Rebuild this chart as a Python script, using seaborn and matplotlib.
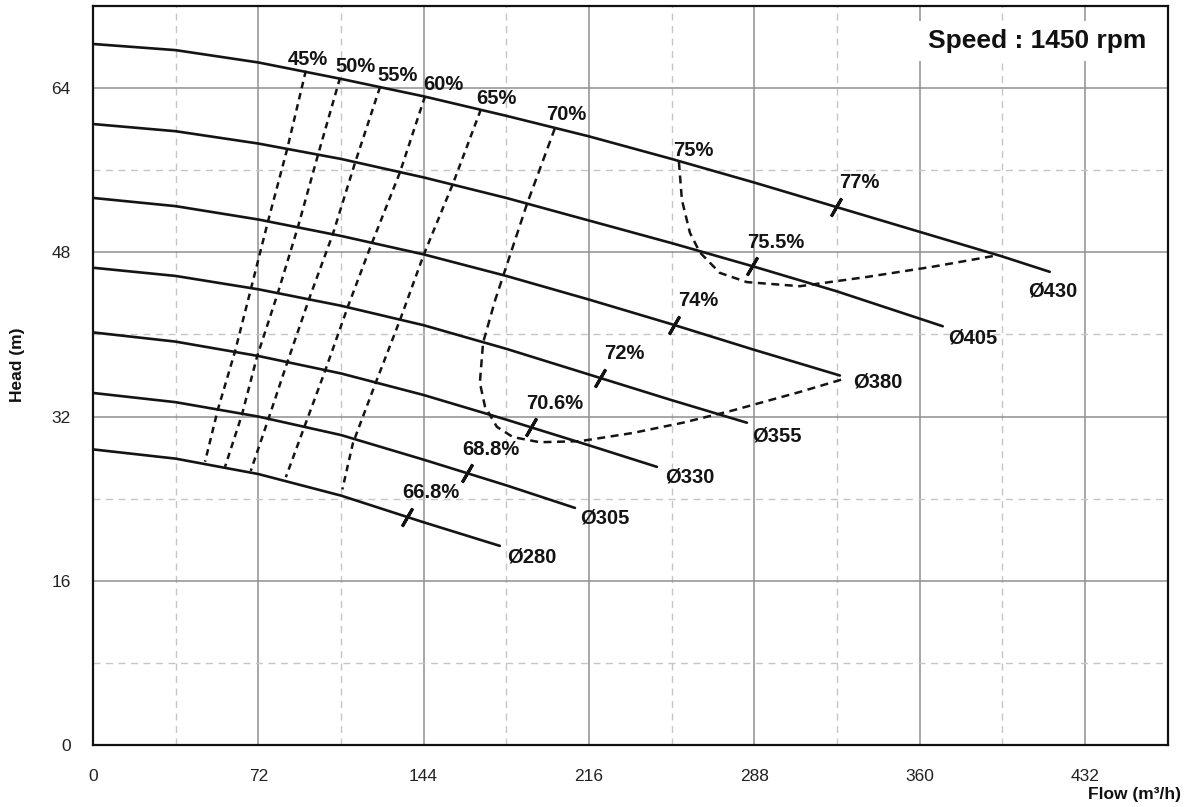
import numpy as np
import pandas as pd
import matplotlib
matplotlib.use("Agg")
import matplotlib.pyplot as plt
import seaborn as sns

# ---------------- data (flow m3/h, head m) ----------------
curve_names = ["Ø430", "Ø405", "Ø380", "Ø355", "Ø330", "Ø305", "Ø280"]
d430_q = [0, 36, 72, 108, 144, 180, 216, 252, 288, 324, 360, 396, 416.7]
d430_h = [68.3, 67.7, 66.5, 64.9, 63.2, 61.3, 59.3, 57.1, 54.8, 52.4, 50.0, 47.6, 46.1]
d405_q = [0, 36, 72, 108, 144, 180, 216, 252, 288, 324, 370.1]
d405_h = [60.5, 59.8, 58.6, 57.1, 55.3, 53.3, 51.1, 48.9, 46.6, 44.2, 40.8]
d380_q = [0, 36, 72, 108, 144, 180, 216, 252, 288, 325.3]
d380_h = [53.3, 52.5, 51.2, 49.6, 47.8, 45.7, 43.4, 41.0, 38.5, 36.0]
d355_q = [0, 36, 72, 108, 144, 180, 216, 252, 284.8]
d355_h = [46.5, 45.7, 44.4, 42.8, 40.9, 38.6, 36.1, 33.6, 31.4]
d330_q = [0, 36, 72, 108, 144, 180, 216, 245.6]
d330_h = [40.2, 39.3, 37.9, 36.2, 34.1, 31.7, 29.2, 27.1]
d305_q = [0, 36, 72, 108, 144, 180, 209.9]
d305_h = [34.3, 33.4, 32.0, 30.2, 27.8, 25.3, 23.1]
d280_q = [0, 36, 72, 108, 144, 177.2]
d280_h = [28.8, 27.9, 26.4, 24.3, 21.7, 19.4]

# iso-efficiency lines
iso_labels = ["45%", "50%", "55%", "60%", "65%", "70%", "75%"]
e45_q = [92.7, 84.5, 76.2, 68.4, 61.8, 54.4, 48.8]
e45_h = [65.7, 58.0, 51.0, 44.1, 38.3, 32.7, 27.6]
e50_q = [107.6, 98.0, 89.3, 80.6, 71.4, 64.9, 57.5]
e50_h = [65.0, 57.5, 50.5, 44.1, 37.8, 32.2, 27.1]
e55_q = [125.0, 114.1, 104.5, 94.5, 84.5, 76.6, 68.7]
e55_h = [64.1, 56.7, 49.8, 43.7, 37.2, 31.9, 26.7]
e60_q = [144.6, 133.7, 120.6, 111.0, 101.0, 91.9, 84.0]
e60_h = [63.2, 55.8, 48.4, 42.7, 36.4, 30.9, 26.1]
e65_q = [168.9, 156.8, 144.1, 133.7, 122.8, 113.2, 108.6]
e65_h = [61.9, 54.7, 47.8, 41.4, 35.1, 29.4, 24.9]
e70_q = [201.2, 189.0, 178.5, 175.1, 169.9, 168.5, 170.7, 175.9, 182.9,
         194.6, 212.1, 235.1, 256.9, 278.7, 307.9, 327.5]
e70_h = [60.1, 52.7, 45.6, 43.3, 39.2, 35.3, 33.0, 31.0, 30.0,
         29.5, 29.6, 30.4, 31.4, 32.6, 34.4, 35.7]
e75_q = [255.2, 256.5, 260.0, 264.3, 273.0, 284.8, 307.9, 337.0, 365.8, 393.6]
e75_h = [56.8, 53.1, 49.9, 48.0, 46.0, 45.1, 44.7, 45.6, 46.6, 47.7]

# best-efficiency marks on each curve
bep_labels = ["77%", "75.5%", "74%", "72%", "70.6%", "68.8%", "66.8%"]
bep_q = [323.5, 287.0, 253.0, 220.8, 190.7, 162.9, 136.7]

x_ticks = [0, 72, 144, 216, 288, 360, 432]
y_ticks = [0, 16, 32, 48, 64]

# ---------------- style ----------------
sns.set_style("white")
plt.rcParams["font.family"] = ["Liberation Sans", "DejaVu Sans"]

W, H = 1189, 807
fig = plt.figure(figsize=(W / 100, H / 100), dpi=100)
ax = fig.add_axes([93 / W, 1 - 745 / H, (1167.5 - 93) / W, (745 - 6) / H])

LC = "#141414"
curves_q = [d430_q, d405_q, d380_q, d355_q, d330_q, d305_q, d280_q]
curves_h = [d430_h, d405_h, d380_h, d355_h, d330_h, d305_h, d280_h]
iso_q = [e45_q, e50_q, e55_q, e60_q, e65_q, e70_q, e75_q]
iso_h = [e45_h, e50_h, e55_h, e60_h, e65_h, e70_h, e75_h]

for q, h in zip(curves_q, curves_h):
    sns.lineplot(x=q, y=h, ax=ax, color=LC, lw=1.9, sort=False,
                 estimator=None, zorder=4)

for i, (q, h) in enumerate(zip(iso_q, iso_h)):
    dash = (0, (2.6, 2.0)) if i < 5 else (0, (3.2, 2.2))
    sns.lineplot(x=q, y=h, ax=ax, color=LC, lw=1.8, sort=False,
                 estimator=None, linestyle=dash, zorder=3)

# iso labels above the top curve
iso_off = [(2, 6), (15, 6), (18, 6), (18, 6), (16, 6), (11, 8), (14, 6)]
for lab, q, h, off in zip(iso_labels, iso_q, iso_h, iso_off):
    ax.annotate(lab, (q[0], h[0]), xytext=off, textcoords="offset pixels",
                ha="center", va="baseline", fontsize=14.5,
                fontweight="bold", color=LC, zorder=6)

# best efficiency ticks
bep_h = [float(np.interp(q, cq, ch)) for q, cq, ch in zip(bep_q, curves_q, curves_h)]
ax.plot(bep_q, bep_h, ls="none", marker=(2, 2, -30), ms=15, mew=2.2,
        color=LC, zorder=5)
for lab, q, h in zip(bep_labels, bep_q, bep_h):
    ax.annotate(lab, (q, h), xytext=(24, 24), textcoords="offset pixels",
                ha="center", va="center", fontsize=14.5,
                fontweight="bold", color=LC, zorder=6)

# impeller diameter labels at curve ends
name_off = [(-22, -19), (5, -12), (13, -6), (5, -13), (8, -10), (5, -10), (7, -11)]
for name, q, h, off in zip(curve_names, curves_q, curves_h, name_off):
    ax.annotate(name, (q[-1], h[-1]), xytext=off, textcoords="offset pixels",
                ha="left", va="center", fontsize=14.5, fontweight="bold",
                color=LC, zorder=6)

# axes, grid
ax.set_xlim(0, 468)
ax.set_ylim(0, 72)
ax.set_xticks(x_ticks)
ax.set_yticks(y_ticks)
ax.set_xticks(np.arange(36, 469, 72), minor=True)
ax.set_yticks(np.arange(8, 72, 16), minor=True)
ax.set_axisbelow(True)
ax.grid(which="major", color="#8f8f8f", lw=1.1, ls="-")
ax.grid(which="minor", color="#c6c6c6", lw=1.0, ls=(0, (5, 4)))
ax.tick_params(which="major", direction="out", length=11, width=1.3,
               color="#111111", labelsize=12.5, labelcolor="#222222", pad=5)
ax.tick_params(axis="x", which="major", pad=6)
ax.tick_params(which="minor", length=0)
for s in ax.spines.values():
    s.set_color("#111111")
    s.set_linewidth(1.6)

ax.set_ylabel("Head (m)", fontsize=12.5, fontweight="bold", color="#111111")
ax.yaxis.set_label_coords(-0.0633, 0.514)
ax.set_xlabel("Flow (m³/h)", fontsize=12.5, fontweight="bold",
              color="#111111", ha="right", va="top")
ax.xaxis.set_label_coords(1.0126, -0.0568)

ax.text(0.8786, 0.9526, "Speed : 1450 rpm", transform=ax.transAxes,
        ha="center", va="center", fontsize=19, fontweight="bold",
        color="#111111", zorder=7,
        bbox=dict(facecolor="white", edgecolor="none", pad=6))

fig.savefig("out.png", dpi=100)
